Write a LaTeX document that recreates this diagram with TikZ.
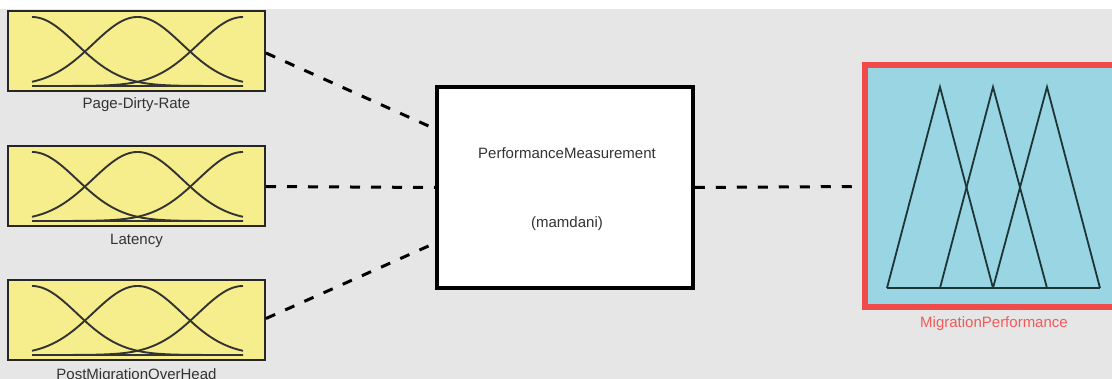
\documentclass[tikz,border=0pt]{standalone}
\usepackage{fontspec}
\setmainfont{Liberation Sans}
\usetikzlibrary{calc}
\definecolor{bgc}{HTML}{E6E6E6}
\definecolor{yel}{HTML}{F6EE8C}
\definecolor{cyanf}{HTML}{9AD5E3}
\definecolor{redb}{HTML}{EE4B4B}
\definecolor{redt}{HTML}{F05A5A}
\definecolor{txt}{HTML}{333333}
\definecolor{trib}{HTML}{1E3535}
\tikzset{
  inbox/.style={draw=black!85, line width=2pt, fill=yel, minimum width=257pt, minimum height=80pt, inner sep=0pt},
  midbox/.style={draw=black, line width=3.5pt, fill=white, minimum width=256pt, minimum height=201pt, inner sep=0pt},
  outbox/.style={draw=redb, line width=6pt, fill=cyanf, minimum width=260pt, minimum height=242pt, inner sep=0pt},
  lab/.style={text=txt, font=\fontsize{15}{18}\selectfont, inner sep=0pt, anchor=base},
  conn/.style={line width=3pt, dash pattern=on 10pt off 11pt},
  mf/.style={line width=1.9pt, black!80},
  tri/.style={line width=1.8pt, trib}
}
\newcommand\gaussset[1]{%
  \draw[mf] plot[domain=32:243,samples=90,smooth] (\x,{#1+75-69*exp(-0.5*((\x-32)/44.6)^2)});
  \draw[mf] plot[domain=32:243,samples=90,smooth] (\x,{#1+75-69*exp(-0.5*((\x-137.5)/44.6)^2)});
  \draw[mf] plot[domain=32:243,samples=90,smooth] (\x,{#1+75-69*exp(-0.5*((\x-243)/44.6)^2)});
  \draw[mf] (32,#1+75) -- (243,#1+75);
}
\begin{document}
\begin{tikzpicture}[x=1pt,y=-1pt]
\useasboundingbox (0,0) rectangle (1112,379);
\clip (0,0) rectangle (1112,379);
\fill[white] (0,0) rectangle (1112,9);
\fill[bgc] (0,9) rectangle (1112,379);

\node[inbox] (b1) at (136.5,51) {};
\node[inbox] (b2) at (136.5,186.5) {};
\node[inbox] (b3) at (136.5,320.5) {};
\gaussset{11}
\gaussset{146}
\gaussset{280}
\node[lab] (l1) at (136.5,109) {Page-Dirty-Rate};
\node[lab] (l2) at (136.5,245) {Latency};
\node[lab] (l3) at (136.5,380) {PostMigrationOverHead};

\node[midbox] (mid) at (565,187.5) {};
\node[lab] (t1) at (567,159) {PerformanceMeasurement};
\node[lab] (t2) at (567,228) {(mamdani)};

\node[outbox] (out) at (995,186.5) {};
\draw[tri] (887,288) -- (940,87) -- (993,288);
\draw[tri] (940,288) -- (993,87) -- (1047,288);
\draw[tri] (993,288) -- (1047,87) -- (1100,288);
\draw[tri] (887,288) -- (1100,288);
\node[lab, text=redt] (l4) at (994,328) {MigrationPerformance};

\draw[conn] ([yshift=-2pt]b1.east) -- ([yshift=58.5pt]mid.west);
\draw[conn] (b2.east) -- (mid.west);
\draw[conn] ([yshift=2pt]b3.east) -- ([yshift=-55.5pt]mid.west);
\draw[conn] (mid.east) -- (out.west);
\end{tikzpicture}
\end{document}
